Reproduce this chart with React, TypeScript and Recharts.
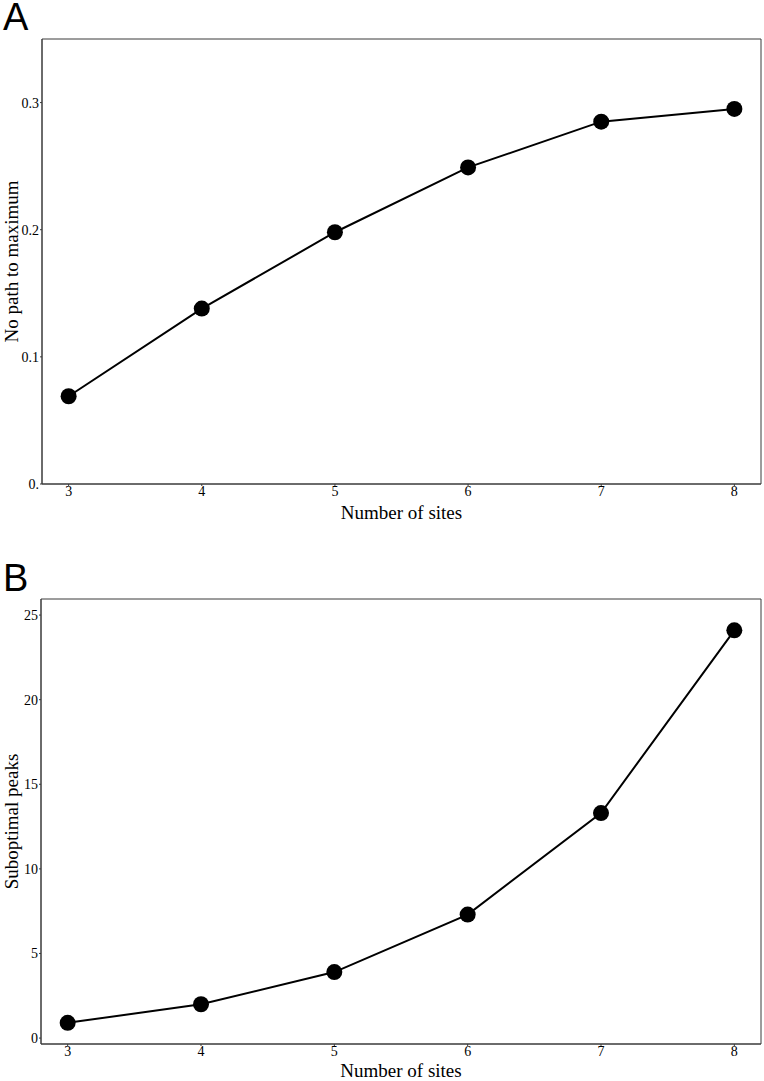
import { Label, Line, LineChart, ReferenceArea, XAxis, YAxis } from 'recharts';

// values
const sites = [3, 4, 5, 6, 7, 8];
const noPathToMaximum = [0.069, 0.138, 0.198, 0.249, 0.285, 0.295];
const suboptimalPeaks = [0.9, 2.0, 3.9, 7.3, 13.3, 24.1];

const siteTicks = [3, 4, 5, 6, 7, 8];
const noPathTicks = [0, 0.1, 0.2, 0.3];
const peakTicks = [0, 5, 10, 15, 20, 25];

const X_DOMAIN: [number, number] = [2.8, 8.2];

const SERIF = '"Liberation Serif", "Times New Roman", serif';
const SANS = '"Liberation Sans", Arial, sans-serif';
const FRAME = '#3a3a3a';

const tickStyle = { fontSize: 14, fill: '#000', fontFamily: SERIF };

interface PanelProps {
  data: { site: number; value: number }[];
  yDomain: [number, number];
  yTicks: number[];
  yFormat: (v: number) => string;
  yTitle: string;
  height: number;
  top: number;
  marginTop: number;
  xAxisHeight: number;
  yAxisWidth: number;
  titleOffset: number;
}

function Panel({
  data,
  yDomain,
  yTicks,
  yFormat,
  yTitle,
  height,
  top,
  marginTop,
  xAxisHeight,
  yAxisWidth,
  titleOffset,
}: PanelProps) {
  return (
    <div style={{ position: 'absolute', left: 0, top }}>
      <LineChart
        width={764}
        height={height}
        data={data}
        margin={{ top: marginTop, right: 3, bottom: 0, left: 0 }}
      >
        <XAxis
          dataKey="site"
          type="number"
          domain={X_DOMAIN}
          allowDataOverflow
          ticks={siteTicks}
          tick={tickStyle}
          tickSize={2}
          tickMargin={0}
          axisLine={{ stroke: FRAME }}
          tickLine={{ stroke: FRAME }}
          height={xAxisHeight}
        >
          <Label
            value="Number of sites"
            position="insideTop"
            offset={titleOffset}
            style={{ fontSize: 19, fill: '#000', fontFamily: SERIF }}
          />
        </XAxis>
        <YAxis
          type="number"
          domain={yDomain}
          allowDataOverflow
          ticks={yTicks}
          tickFormatter={yFormat}
          tick={tickStyle}
          tickSize={2}
          tickMargin={1}
          axisLine={{ stroke: FRAME }}
          tickLine={{ stroke: FRAME }}
          width={yAxisWidth}
        >
          <Label
            value={yTitle}
            angle={-90}
            position="center"
            dx={-(yAxisWidth / 2 - 11)}
            style={{ fontSize: 19, fill: '#000', fontFamily: SERIF }}
          />
        </YAxis>
        {/* plot frame (top + right edges) */}
        <ReferenceArea
          x1={X_DOMAIN[0]}
          x2={X_DOMAIN[1]}
          y1={yDomain[0]}
          y2={yDomain[1]}
          fill="none"
          fillOpacity={0}
          stroke={FRAME}
          strokeWidth={1}
          ifOverflow="visible"
        />
        <Line
          type="linear"
          dataKey="value"
          stroke="#000"
          strokeWidth={2}
          dot={{ r: 8, fill: '#000', stroke: 'none' }}
          activeDot={false}
          isAnimationActive={false}
        />
      </LineChart>
    </div>
  );
}

export default function App() {
  const dataA = sites.map((s, i) => ({ site: s, value: noPathToMaximum[i] }));
  const dataB = sites.map((s, i) => ({ site: s, value: suboptimalPeaks[i] }));

  const letterStyle = {
    position: 'absolute' as const,
    left: 3,
    fontFamily: SANS,
    fontSize: 38,
    lineHeight: 0.8,
    color: '#000',
  };

  return (
    <div
      style={{
        position: 'absolute',
        left: 0,
        top: 0,
        width: 764,
        height: 1081,
        background: '#fff',
        overflow: 'hidden',
      }}
    >
      <Panel
        data={dataA}
        yDomain={[0, 0.35]}
        yTicks={noPathTicks}
        yFormat={(v) => (v === 0 ? '0.' : v.toFixed(1))}
        yTitle="No path to maximum"
        height={540}
        top={0}
        marginTop={39}
        xAxisHeight={56}
        yAxisWidth={42}
        titleOffset={22}
      />
      <Panel
        data={dataB}
        yDomain={[-0.35, 25.95]}
        yTicks={peakTicks}
        yFormat={(v) => String(v)}
        yTitle="Suboptimal peaks"
        height={541}
        top={540}
        marginTop={59}
        xAxisHeight={37}
        yAxisWidth={41}
        titleOffset={20}
      />
      {/* panel letters */}
      <div style={{ ...letterStyle, top: 2 }}>A</div>
      <div style={{ ...letterStyle, top: 563 }}>B</div>
    </div>
  );
}
